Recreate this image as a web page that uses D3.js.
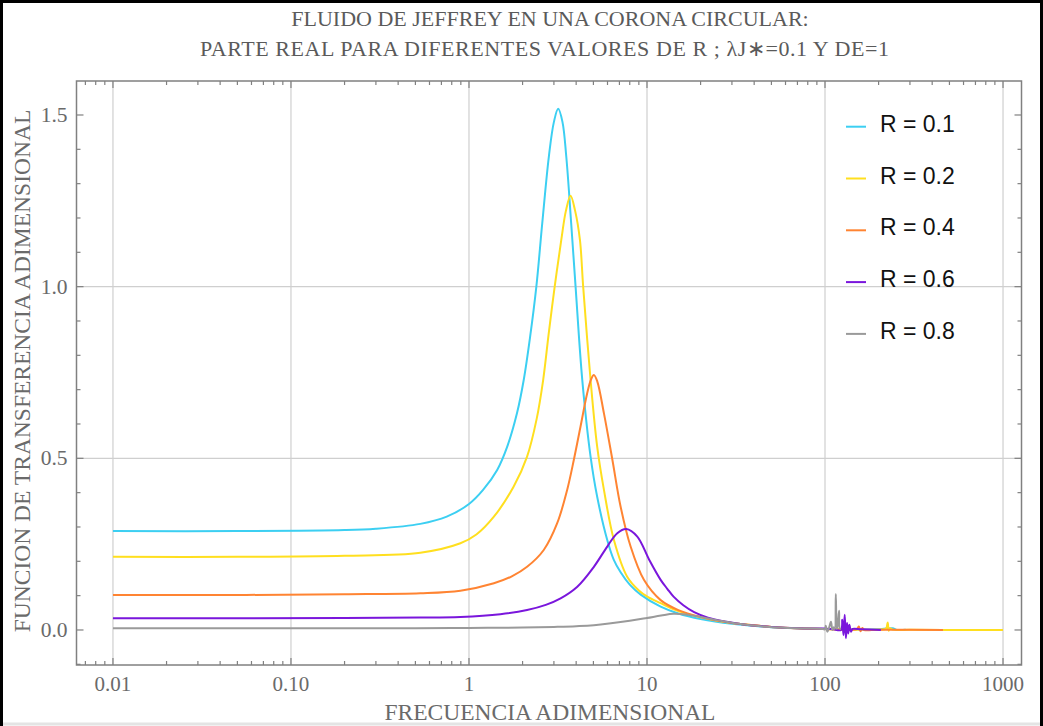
<!DOCTYPE html>
<html>
<head>
<meta charset="utf-8">
<script src="https://cdn.jsdelivr.net/npm/d3@7"></script>
<style>
  html, body { margin: 0; padding: 0; background: #fff; }
  svg { display: block; }
</style>
</head>
<body>
<svg id="chart" width="1043" height="726"></svg>
<script>
// ---------------- DATA ----------------
const seriesNames = ["R = 0.1", "R = 0.2", "R = 0.4", "R = 0.6", "R = 0.8"];
const seriesColors = ["#3ccff2", "#ffdf1f", "#ff8432", "#7a16dc", "#9a9a9a"];

const fR01 = [0.01,0.05,0.2,0.3,0.533,0.75,1.0,1.2,1.44,1.64,1.86,2.03,2.2,2.39,2.58,2.81,3.0,3.17,3.35,3.52,3.75,3.97,4.33,4.82,5.25,5.98,6.5,7.11,8.0,9.22,11.93,15,20,30,50,70,100,200,240,250,284];
const vR01 = [0.288,0.288,0.291,0.295,0.309,0.33,0.367,0.408,0.466,0.534,0.631,0.728,0.85,1.0,1.185,1.379,1.48,1.518,1.48,1.379,1.185,1.0,0.728,0.505,0.388,0.262,0.205,0.168,0.132,0.103,0.068,0.048,0.032,0.018,0.008,0.005,0.003,0.002,0.005,0.001,0.001];

const fR02 = [0.01,0.05,0.2,0.533,0.895,1.1,1.38,1.78,2.12,2.4,2.61,2.8,3.03,3.30,3.50,3.72,3.95,4.20,4.38,4.82,5.25,5.73,6.52,7.74,9.0,10.04,11.93,15,20,30,50,70,100,200,220,225,228,232,240,300,500,1000];
const vR02 = [0.213,0.213,0.216,0.225,0.2525,0.278,0.33,0.417,0.505,0.615,0.728,0.86,1.0,1.136,1.22,1.265,1.22,1.136,1.0,0.728,0.534,0.408,0.262,0.155,0.115,0.097,0.078,0.055,0.037,0.02,0.009,0.005,0.003,0.001,0.004,0.022,-0.002,0.005,0.001,0.0005,0.0,0.0];

const fR04 = [0.01,0.05,0.2,0.533,0.895,1.38,1.75,2.12,2.63,3.13,3.56,3.88,4.23,4.61,4.85,5.03,5.25,5.73,6.38,7.11,8.09,9.61,11.93,15,20,30,50,70,100,150,155,158,162,166,200,460];
const vR04 = [0.102,0.102,0.104,0.107,0.1145,0.136,0.157,0.184,0.233,0.311,0.408,0.495,0.592,0.689,0.73,0.743,0.725,0.631,0.498,0.359,0.243,0.146,0.087,0.058,0.038,0.02,0.009,0.005,0.003,0.002,0.01,-0.004,0.006,0.0,0.001,0.0];

const fR06 = [0.01,0.05,0.2,0.533,0.895,1.5,2.12,2.7,3.27,4.06,5.03,5.98,6.81,7.65,8.82,10.3,11.93,13.0,14.1,16,18.4,22,28,35,50,70,100,110,123,125,127,129,131,133,135,137,140,143,160,206];
const vR06 = [0.034,0.034,0.035,0.036,0.038,0.046,0.058,0.073,0.092,0.126,0.184,0.243,0.282,0.294,0.272,0.204,0.146,0.12,0.097,0.072,0.052,0.036,0.024,0.016,0.009,0.005,0.004,0.003,0.0,0.03,-0.015,0.044,-0.024,0.02,-0.01,0.015,-0.005,0.003,0.002,0.0];

const fR08 = [0.01,0.1,0.5,1,2,3,4,5.03,8,10,12,14.1,17,20,25,30.9,47,70,97,100,101,103,105,108,110,112,113.5,115,116.4,118,120,121,123];
const vR08 = [0.005,0.005,0.005,0.006,0.007,0.009,0.011,0.014,0.027,0.035,0.042,0.047,0.044,0.038,0.028,0.0195,0.0097,0.005,0.003,0.002,0.012,-0.005,0.004,0.024,0.0,0.008,0.003,0.105,0.003,0.02,0.056,0.005,0.003];

const seriesF = [fR01, fR02, fR04, fR06, fR08];
const seriesV = [vR01, vR02, vR04, vR06, vR08];

const xTickValues = [0.01, 0.1, 1, 10, 100, 1000];
const xTickLabels = ["0.01", "0.10", "1", "10", "100", "1000"];
const yTickValues = [0.0, 0.5, 1.0, 1.5];
const yTickLabels = ["0.0", "0.5", "1.0", "1.5"];
const yGridValues = [0.5, 1.0];

const titleLines = ["FLUIDO DE JEFFREY EN UNA CORONA CIRCULAR:",
                    "PARTE REAL PARA DIFERENTES VALORES DE R ; \u03BBJ\u2217=0.1 Y DE=1"];
const xTitle = "FRECUENCIA ADIMENSIONAL";
const yTitle = "FUNCION DE TRANSFERENCIA ADIMENSIONAL";

// ---------------- LAYOUT ----------------
const W = 1043, H = 726;
const plot = { left: 76.5, right: 1021.5, top: 81, bottom: 665 };
const svg = d3.select("#chart");

const x = d3.scaleLog().domain([0.00624, 1270]).range([plot.left, plot.right]);
const y = d3.scaleLinear().domain([-0.102, 1.599]).range([plot.bottom, plot.top]);

const serif = "'Liberation Serif','Times New Roman',serif";
const sans = "'Liberation Sans',Arial,sans-serif";

// outer border (black top/left/right, light bottom)
svg.append("path").attr("d", `M1.5,${H} L1.5,1.5 L${W - 1.5},1.5 L${W - 1.5},${H}`)
  .attr("fill", "none").attr("stroke", "#000").attr("stroke-width", 3);
svg.append("line").attr("x1", 3).attr("x2", W - 3).attr("y1", H - 2).attr("y2", H - 2)
  .attr("stroke", "#e4e4e4").attr("stroke-width", 3);

// grid
const grid = svg.append("g");
grid.selectAll("line.vx").data(xTickValues).join("line")
  .attr("x1", d => x(d)).attr("x2", d => x(d))
  .attr("y1", plot.top).attr("y2", plot.bottom)
  .attr("stroke", "#cfcfcf").attr("stroke-width", 1.2);
grid.selectAll("line.hy").data(yGridValues).join("line")
  .attr("y1", d => y(d)).attr("y2", d => y(d))
  .attr("x1", plot.left).attr("x2", plot.right)
  .attr("stroke", "#cfcfcf").attr("stroke-width", 1.2);

// curves
svg.append("clipPath").attr("id", "clip").append("rect")
  .attr("x", plot.left).attr("y", plot.top)
  .attr("width", plot.right - plot.left).attr("height", plot.bottom - plot.top);

const line = d3.line().x(d => x(d[0])).y(d => y(d[1])).curve(d3.curveCatmullRom.alpha(0.5));
const curves = svg.append("g").attr("clip-path", "url(#clip)");
seriesF.forEach((fs, i) => {
  const pts = fs.map((f, j) => [f, seriesV[i][j]]);
  curves.append("path").datum(pts).attr("d", line)
    .attr("fill", "none").attr("stroke", seriesColors[i])
    .attr("stroke-width", 2).attr("stroke-linejoin", "round");
});

// frame with inward ticks
const frameColor = "#808080";
const axes = svg.append("g");
axes.append("rect").attr("x", plot.left).attr("y", plot.top)
  .attr("width", plot.right - plot.left).attr("height", plot.bottom - plot.top)
  .attr("fill", "none").attr("stroke", frameColor).attr("stroke-width", 1.5);

const minorX = [];
for (let e = -3; e <= 3; e++) for (let k = 2; k <= 9; k++) {
  const v = k * Math.pow(10, e);
  if (v > x.domain()[0] && v < x.domain()[1]) minorX.push(v);
}
const minorY = d3.range(-1, 16).map(d => d / 10).filter(d => !yTickValues.includes(d) && d > y.domain()[0]);

function xticks(vals, len) {
  axes.append("g").selectAll("line").data(vals).join("line")
    .attr("x1", d => x(d)).attr("x2", d => x(d))
    .attr("y1", plot.bottom).attr("y2", plot.bottom - len)
    .attr("stroke", frameColor).attr("stroke-width", 1.2);
  axes.append("g").selectAll("line").data(vals).join("line")
    .attr("x1", d => x(d)).attr("x2", d => x(d))
    .attr("y1", plot.top).attr("y2", plot.top + len)
    .attr("stroke", frameColor).attr("stroke-width", 1.2);
}
function yticks(vals, len) {
  axes.append("g").selectAll("line").data(vals).join("line")
    .attr("y1", d => y(d)).attr("y2", d => y(d))
    .attr("x1", plot.left).attr("x2", plot.left + len)
    .attr("stroke", frameColor).attr("stroke-width", 1.2);
  axes.append("g").selectAll("line").data(vals).join("line")
    .attr("y1", d => y(d)).attr("y2", d => y(d))
    .attr("x1", plot.right).attr("x2", plot.right - len)
    .attr("stroke", frameColor).attr("stroke-width", 1.2);
}
xticks(xTickValues, 7); xticks(minorX, 4);
yticks(yTickValues, 7); yticks(minorY, 4);

// tick labels
const labelColor = "#6a6a6a";
svg.append("g").selectAll("text").data(xTickValues).join("text")
  .attr("x", d => x(d)).attr("y", plot.bottom + 26)
  .attr("text-anchor", "middle").attr("font-family", serif).attr("font-size", 21)
  .attr("fill", labelColor).text((d, i) => xTickLabels[i]);
svg.append("g").selectAll("text").data(yTickValues).join("text")
  .attr("x", plot.left - 9).attr("y", d => y(d) + 7)
  .attr("text-anchor", "end").attr("font-family", serif).attr("font-size", 21.5)
  .attr("fill", labelColor).text((d, i) => yTickLabels[i]);

// titles
svg.append("text").attr("x", 550).attr("y", 26).attr("text-anchor", "middle")
  .attr("font-family", serif).attr("font-size", 22).attr("fill", "#5a5a5a").text(titleLines[0]);
svg.append("text").attr("x", 544.5).attr("y", 56).attr("text-anchor", "middle")
  .attr("font-family", serif).attr("font-size", 22).attr("fill", "#5a5a5a")
  .attr("textLength", 689).attr("lengthAdjust", "spacing").text(titleLines[1]);
svg.append("text").attr("x", 550).attr("y", 720).attr("text-anchor", "middle")
  .attr("font-family", serif).attr("font-size", 23.5).attr("fill", labelColor).text(xTitle);
svg.append("text").attr("transform", "translate(30,371) rotate(-90)").attr("text-anchor", "middle")
  .attr("font-family", serif).attr("font-size", 23.5).attr("fill", labelColor).text(yTitle);

// legend
const legend = svg.append("g");
seriesNames.forEach((name, i) => {
  const ly = 126.7 + i * 51.8;
  legend.append("line").attr("x1", 846).attr("x2", 866).attr("y1", ly).attr("y2", ly)
    .attr("stroke", seriesColors[i]).attr("stroke-width", 2);
  legend.append("text").attr("x", 880).attr("y", ly + 5).attr("font-family", sans)
    .attr("font-size", 23).attr("fill", "#111").text(name);
});
</script>
</body>
</html>
